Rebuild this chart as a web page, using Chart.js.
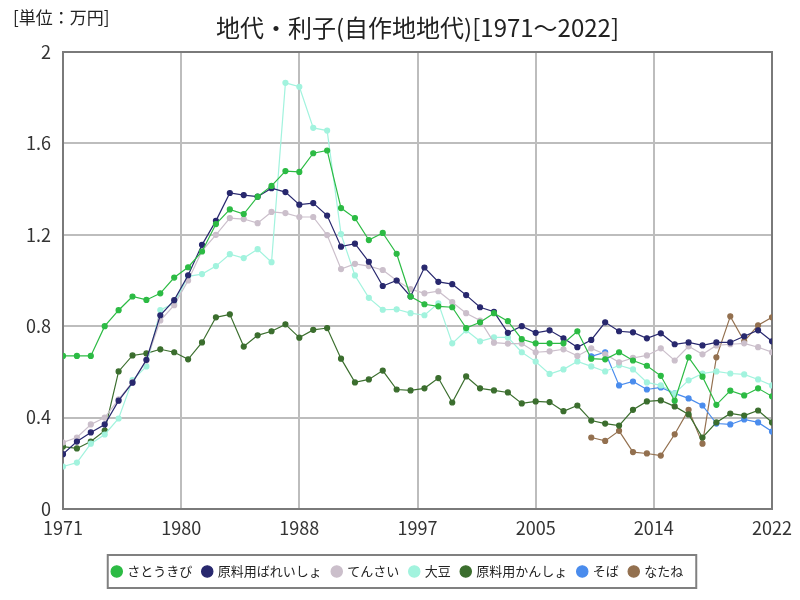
<!DOCTYPE html>
<html lang="ja">
<head>
<meta charset="utf-8">
<script src="https://cdn.jsdelivr.net/npm/chart.js@4.4.0/dist/chart.umd.min.js"></script>
<style>
  body { margin: 0; background: #fff; }
  #wrap { width: 800px; height: 600px; }
</style>
</head>
<body>
<div id="wrap"><canvas id="chart"></canvas></div>
<script>
const titleText = '地代・利子(自作地地代)[1971～2022]';
const unitText = '[単位：万円]';

// 1971 .. 2022
const years = [];
for (let y = 1971; y <= 2022; y++) years.push(y);

const satoukibi = [
  0.67, 0.67, 0.67, 0.80, 0.87, 0.93, 0.915, 0.944, 1.013, 1.058,
  1.127, 1.247, 1.311, 1.291, 1.367, 1.414, 1.479, 1.475, 1.557, 1.569,
  1.317, 1.273, 1.177, 1.208, 1.117, 0.93, 0.896, 0.887, 0.883, 0.792,
  0.817, 0.857, 0.822, 0.743, 0.725, 0.725, 0.725, 0.778, 0.658, 0.655,
  0.686, 0.65, 0.627, 0.583, 0.474, 0.664, 0.579, 0.456, 0.518, 0.497,
  0.528, 0.493
];
const bareisho = [
  0.24, 0.295, 0.335, 0.37, 0.474, 0.553, 0.653, 0.848, 0.914, 1.023,
  1.156, 1.261, 1.383, 1.374, 1.367, 1.404, 1.387, 1.332, 1.339, 1.284,
  1.148, 1.161, 1.082, 0.976, 1.0, 0.93, 1.057, 0.994, 0.984, 0.936,
  0.883, 0.863, 0.771, 0.8, 0.771, 0.782, 0.747, 0.708, 0.74, 0.817,
  0.778, 0.773, 0.747, 0.769, 0.721, 0.729, 0.716, 0.729, 0.729, 0.756,
  0.782, 0.734
];
const tensai = [
  0.291, 0.313, 0.37, 0.40, 0.48, 0.555, 0.65, 0.825, 0.892, 1.0,
  1.13, 1.2, 1.273, 1.269, 1.251, 1.3, 1.295, 1.278, 1.278, 1.199,
  1.05, 1.073, 1.063, 1.046, 1.0, 0.962, 0.944, 0.953, 0.905, 0.857,
  0.825, 0.728, 0.724, 0.724, 0.686, 0.69, 0.699, 0.67, 0.703, 0.677,
  0.642, 0.661, 0.672, 0.703, 0.65, 0.712, 0.677, 0.716, 0.721, 0.725,
  0.708, 0.686
];
const daizu = [
  0.186, 0.203, 0.286, 0.326, 0.396, 0.564, 0.624, 0.871, 0.9, 1.018,
  1.028, 1.063, 1.115, 1.098, 1.137, 1.08, 1.865, 1.848, 1.668, 1.656,
  1.203, 1.022, 0.924, 0.872, 0.874, 0.857, 0.848, 0.9, 0.725, 0.782,
  0.734, 0.751, 0.751, 0.686, 0.645, 0.591, 0.611, 0.646, 0.624, 0.602,
  0.629, 0.611, 0.554, 0.541, 0.506, 0.563, 0.593, 0.602, 0.593, 0.589,
  0.567, 0.541
];
const kansho = [
  0.273, 0.265, 0.295, 0.343, 0.602, 0.672, 0.681, 0.699, 0.686, 0.655,
  0.729, 0.839, 0.852, 0.711, 0.76, 0.778, 0.808, 0.75, 0.784, 0.792,
  0.658, 0.554, 0.567, 0.606, 0.523, 0.519, 0.528, 0.573, 0.466, 0.58,
  0.528, 0.519, 0.51, 0.462, 0.471, 0.468, 0.428, 0.453, 0.387, 0.374,
  0.365, 0.434, 0.471, 0.475, 0.449, 0.414, 0.313, 0.379, 0.418, 0.409,
  0.431, 0.379
];
// そば, なたね: 2009 から
const sobaStart = 2009;
const soba = [0.668, 0.686, 0.541, 0.558, 0.523, 0.532, 0.506, 0.484, 0.453, 0.374, 0.37, 0.392, 0.379, 0.339];
const nataneStart = 2009;
const natane = [0.313, 0.298, 0.342, 0.249, 0.243, 0.234, 0.327, 0.434, 0.286, 0.664, 0.843, 0.734, 0.804, 0.839];

const yTicks = [0, 0.4, 0.8, 1.2, 1.6, 2];

function pts(values, start) {
  return values.map((v, i) => ({ x: start + i, y: v }));
}

function series(label, values, start, color) {
  return {
    label: label,
    data: pts(values, start),
    borderColor: color,
    backgroundColor: color,
    borderWidth: 1.2,
    pointRadius: 2.5,
    pointHoverRadius: 3,
    tension: 0
  };
}

const frame = {
  id: 'frame',
  beforeDatasetsDraw(chart) {
    const { ctx, chartArea: a } = chart;
    ctx.save();
    ctx.strokeStyle = '#7a7a7a';
    ctx.lineWidth = 2;
    ctx.strokeRect(a.left, a.top, a.right - a.left, a.bottom - a.top);
    ctx.restore();
  },
  afterDraw(chart) {
    const { ctx, chartArea: a } = chart;
    ctx.save();
    ctx.fillStyle = '#222';
    ctx.textBaseline = 'middle';
    ctx.font = '24px "Noto Sans CJK JP"';
    ctx.textAlign = 'center';
    ctx.fillText(titleText, (a.left + a.right) / 2, 28);
    ctx.font = '17px "Noto Sans CJK JP"';
    ctx.textAlign = 'left';
    ctx.fillText(unitText, 13, 18);

    // legend border
    const boxes = chart.legend.legendHitBoxes;
    if (boxes && boxes.length) {
      let l = Infinity, r = -Infinity, t = Infinity, b = -Infinity;
      boxes.forEach(h => {
        l = Math.min(l, h.left); r = Math.max(r, h.left + h.width);
        t = Math.min(t, h.top); b = Math.max(b, h.top + h.height);
      });
      const cy = (t + b) / 2;
      ctx.strokeStyle = '#808080';
      ctx.lineWidth = 2;
      ctx.strokeRect(l - 5, cy - 16.5, r - l + 18, 33);
    }
    ctx.restore();
  }
};

new Chart(document.getElementById('chart'), {
  type: 'line',
  data: {
    datasets: [
      series('さとうきび', satoukibi, years[0], '#2cbb44'),
      series('原料用ばれいしょ', bareisho, years[0], '#28286e'),
      series('てんさい', tensai, years[0], '#cbbfcb'),
      series('大豆', daizu, years[0], '#a2f3de'),
      series('原料用かんしょ', kansho, years[0], '#3b6e2e'),
      series('そば', soba, sobaStart, '#4a8ced'),
      series('なたね', natane, nataneStart, '#93704f')
    ]
  },
  options: {
    responsive: true,
    maintainAspectRatio: false,
    animation: false,
    layout: { padding: { top: 52, right: 28, left: 24, bottom: 12 } },
    plugins: {
      legend: {
        position: 'bottom',
        labels: {
          usePointStyle: true,
          pointStyle: 'circle',
          boxWidth: 8,
          boxHeight: 8,
          padding: 11,
          color: '#222',
          font: { family: '"Noto Sans CJK JP"', size: 13 }
        }
      },
      tooltip: { enabled: false }
    },
    scales: {
      x: {
        type: 'linear',
        min: years[0],
        max: years[years.length - 1],
        afterFit(scale) { scale.height = 45; },
        ticks: {
          stepSize: 8.5,
          padding: 8,
          color: '#333',
          font: { family: '"Noto Sans CJK JP"', size: 18 },
          callback: v => String(Math.round(v))
        },
        grid: { color: '#bdbdbd', lineWidth: 2, drawTicks: false },
        border: { color: '#7a7a7a', width: 2 }
      },
      y: {
        min: yTicks[0],
        max: yTicks[yTicks.length - 1],
        afterFit(scale) { scale.width = 39; },
        afterBuildTicks(scale) { scale.ticks = yTicks.map(v => ({ value: v })); },
        ticks: {
          padding: 12,
          color: '#333',
          font: { family: '"Noto Sans CJK JP"', size: 18 },
          callback: v => String(v)
        },
        grid: { color: '#bdbdbd', lineWidth: 2, drawTicks: false },
        border: { color: '#7a7a7a', width: 2 }
      }
    }
  },
  plugins: [frame]
});
</script>
</body>
</html>
